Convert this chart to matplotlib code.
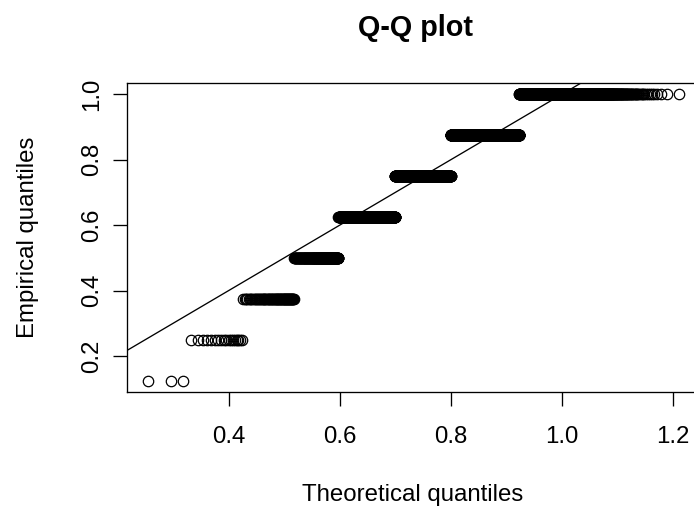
import matplotlib
matplotlib.use("Agg")
import matplotlib.pyplot as plt
import numpy as np

# empirical values (k/8) and how many observations sit at each one
LEVELS = [0.125, 0.25, 0.375, 0.5, 0.625, 0.75, 0.875, 1.0]
COUNTS = [3, 18, 68, 163, 507, 1017, 1811, 1413]

# fitted Weibull used for the theoretical quantiles
FIT_SHAPE = 7.342
FIT_SCALE = 0.895

X_TICKS = [0.4, 0.6, 0.8, 1.0, 1.2]
Y_TICKS = [0.2, 0.4, 0.6, 0.8, 1.0]

W, H = 694, 513
FONT = "Liberation Sans"

empirical = np.repeat(LEVELS, COUNTS)
n = len(empirical)
probs = (np.arange(1, n + 1) - 0.5) / n
# Weibull quantile function
theoretical = FIT_SCALE * (-np.log1p(-probs)) ** (1 / FIT_SHAPE)

plt.rcParams["font.family"] = FONT

fig = plt.figure(figsize=(W / 100, H / 100), dpi=100)
# plot region in pixels: left 127, right 700 (past the edge), top 83, bottom 392
ax = fig.add_axes([127 / W, (H - 392) / H, 573 / W, 309 / H])

ax.plot(theoretical, empirical, "o", mfc="none", mec="black", ms=7.5, mew=0.9)
ax.axline((0, 0), slope=1, color="black", lw=0.95)

# R style limits: data range widened by 4% on each side
xr = theoretical.max() - theoretical.min()
yr = empirical.max() - empirical.min()
ax.set_xlim(theoretical.min() - 0.04 * xr, theoretical.max() + 0.04 * xr)
ax.set_ylim(empirical.min() - 0.04 * yr, empirical.max() + 0.04 * yr)

ax.set_xticks(X_TICKS)
ax.set_xticklabels([f"{v:.1f}" for v in X_TICKS])
ax.set_yticks(Y_TICKS)
ax.set_yticklabels([f"{v:.1f}" for v in Y_TICKS], rotation=90, va="center")
ax.tick_params(axis="both", direction="out", length=10.4, width=0.95,
               labelsize=17.3, colors="black")
ax.tick_params(axis="x", pad=14)
ax.tick_params(axis="y", pad=6.5)

for s in ax.spines.values():
    s.set_linewidth(0.95)

fig.text(415 / W, (H - 36) / H, "Q-Q plot", ha="center", va="baseline",
         fontsize=20.7, fontweight="bold")
fig.text(413 / W, (H - 501) / H, "Theoretical quantiles", ha="center",
         va="baseline", fontsize=17.3)
fig.text(28 / W, (H - 237.5) / H, "Empirical quantiles", ha="center",
         va="center", rotation=90, fontsize=17.3)

fig.savefig("out.png", dpi=100)
